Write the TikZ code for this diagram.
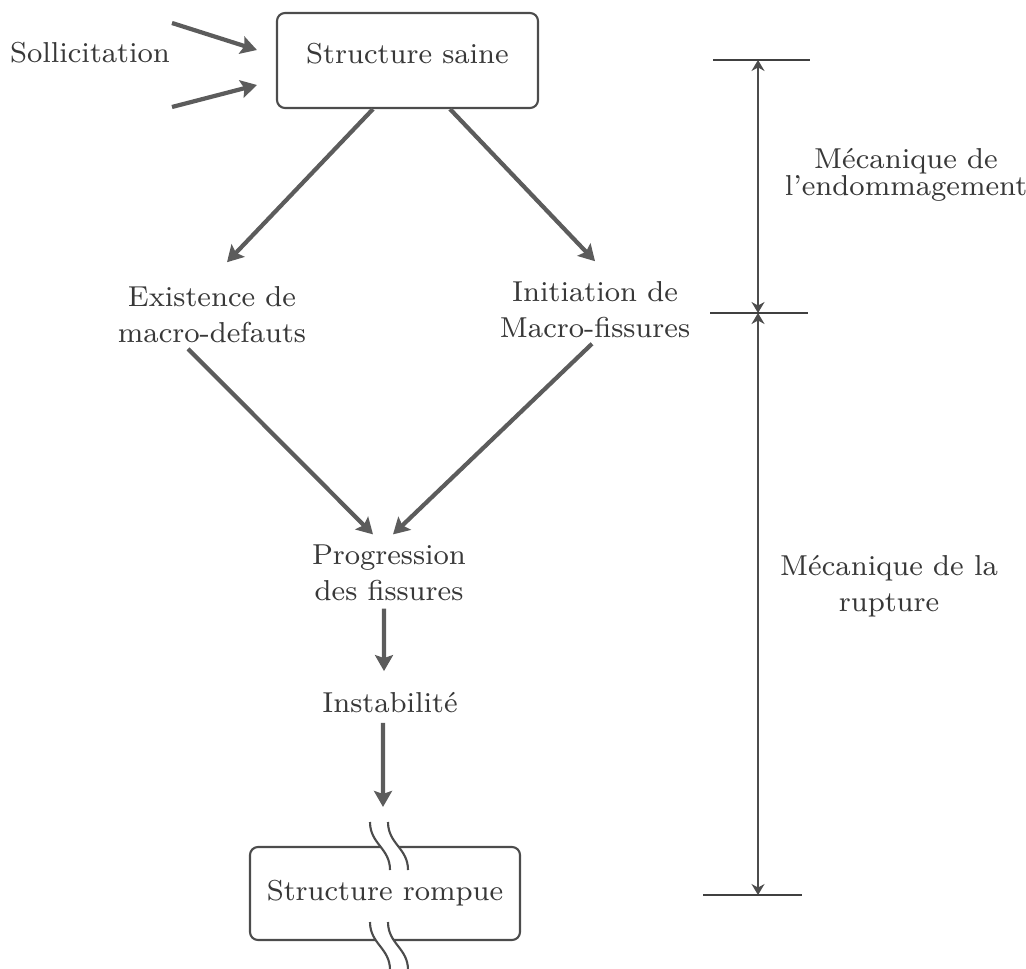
\documentclass[tikz,border=0pt]{standalone}
\usepackage{amsmath}
\usepackage{xcolor}
\usepackage{tikz}
\usetikzlibrary{arrows,arrows.meta,shapes,calc}

\definecolor{flowgray}{gray}{0.36}
\definecolor{txtgray}{gray}{0.22}
\definecolor{linegray}{gray}{0.30}

\begin{document}
\begin{tikzpicture}[
    txt/.style={text=txtgray, font=\fontsize{8.2}{10.2}\selectfont, align=center, inner sep=0pt},
    boxed/.style={txt, draw=linegray, line width=0.6pt, rounded corners=0.08cm, minimum width=#1, minimum height=0.95cm},
    flow/.style={draw=flowgray, line width=1.2pt, -{Stealth[length=0.16cm,width=0.18cm,inset=0.03cm]}},
    dim/.style={draw=linegray, line width=0.45pt, {Stealth[length=0.11cm,width=0.13cm]}-{Stealth[length=0.11cm,width=0.13cm]}},
    tick/.style={draw=black!75, line width=0.5pt}
]
    \useasboundingbox (0,0) rectangle (10.26,-9.68);

    % Boxes
    \node[boxed=2.61cm, text depth=0.15cm] (saine) at (4.075,-0.605) {Structure saine};
    \node[boxed=2.70cm, minimum height=0.93cm] (rompue) at (3.85,-8.935) {Structure rompue};

    % Labels
    \node[txt] (solli) at (0.90,-0.53) {Sollicitation};
    \node[txt] (exist) at (2.12,-3.15) {Existence de\\macro-defauts};
    \node[txt] (init) at (5.95,-3.10) {Initiation de\\Macro-fissures};
    \node[txt] (prog) at (3.89,-5.725) {Progression\\des fissures};
    \node[txt] (instab) at (3.90,-7.03) {Instabilité};
    \node[txt] (endo) at (9.06,-1.745) {Mécanique de\\[-0.09cm]l'endommagement};
    \node[txt] (rupt) at (8.89,-5.86) {Mécanique de la\\rupture};

    % Sollicitation arrows
    \coordinate (s1) at (1.72,-0.23);
    \coordinate (s2) at (1.72,-1.07);
    \draw[flow] (s1) -- ([xshift=-0.19cm,yshift=0.105cm]saine.west);
    \draw[flow] (s2) -- ([xshift=-0.19cm,yshift=-0.245cm]saine.west);

    % Flow
    \draw[flow] ([xshift=-0.345cm]saine.south) -- ([xshift=0.15cm,yshift=0.24cm]exist.north);
    \draw[flow] ([xshift=0.425cm]saine.south) -- ([yshift=0.2cm]init.north);
    \draw[flow] ([xshift=-0.24cm,yshift=-0.05cm]exist.south) -- ([xshift=-0.16cm,yshift=0.095cm]prog.north);
    \draw[flow] ([xshift=-0.03cm,yshift=-0.05cm]init.south) -- ([xshift=0.04cm,yshift=0.095cm]prog.north);
    \draw[flow] ([xshift=-0.05cm,yshift=-0.075cm]prog.south) -- ([xshift=-0.06cm,yshift=0.21cm]instab.north);
    \draw[flow] ([xshift=-0.07cm,yshift=-0.09cm]instab.south) -- ([xshift=-0.02cm,yshift=0.39cm]rompue.north);

    % Break marks
    \foreach \y in {-8.22,-9.22} {
        \fill[white] (3.70,\y) .. controls (3.70,\y-0.22) and (3.90,\y-0.26) .. (3.90,\y-0.48)
            -- (4.08,\y-0.48) .. controls (4.08,\y-0.26) and (3.88,\y-0.22) .. (3.88,\y) -- cycle;
        \foreach \x in {3.70,3.88}
            \draw[linegray, line width=0.6pt] (\x,\y) .. controls (\x,\y-0.22) and (\x+0.2,\y-0.26) .. (\x+0.2,\y-0.48);
    }

    % Dimension lines
    \coordinate (dtop) at (7.58,-0.60);
    \coordinate (dmid) at (7.58,-3.13);
    \coordinate (dbot) at (7.58,-8.95);
    \draw[dim] (dtop) -- (dmid);
    \draw[dim] (dmid) -- (dbot);
    \foreach \p/\l/\r in {dtop/0.45/0.52, dmid/0.48/0.50, dbot/0.55/0.44}
        \draw[tick] ([xshift=-\l cm]\p) -- ([xshift=\r cm]\p);
\end{tikzpicture}
\end{document}
